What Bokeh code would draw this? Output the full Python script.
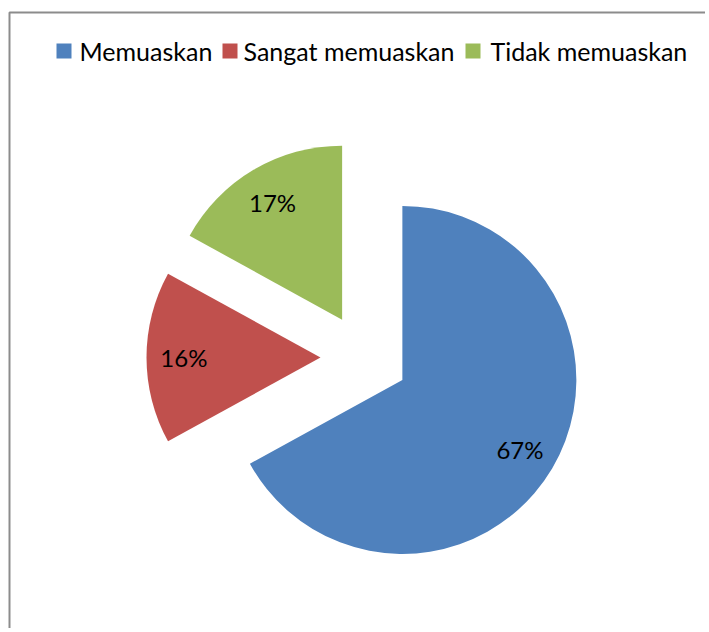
import math
from bokeh.plotting import figure
from bokeh.models import Range1d, ColumnDataSource
from bokeh.core.properties import value
from bokeh.embed import file_html
from bokeh.resources import INLINE

# ---- data ----
categories = ["Memuaskan", "Sangat memuaskan", "Tidak memuaskan"]
values = [67, 16, 17]
labels = ["67%", "16%", "17%"]
colors = ["#4F81BD", "#C0504D", "#9BBB59"]

# ---- layout (screen px -> data units 1:1, y up) ----
W, H = 705, 628
X0, Y_TOP = 0, 632
p = figure(width=W, height=H, output_backend="svg", toolbar_location=None,
           x_range=Range1d(X0, X0 + W), y_range=Range1d(Y_TOP - H, Y_TOP),
           min_border=0)
p.axis.visible = False
p.grid.visible = False
p.outline_line_color = None
p.background_fill_color = "white"

FONT = "Lato"
cx, cy = 364, 632 - 357
R = 174
explode = 44
label_frac = 0.785

total = float(sum(values))
starts, ends, xs, ys, lx, ly = [], [], [], [], [], []
cum = 0.0
for v in values:
    a0 = math.pi / 2 - 2 * math.pi * cum / total
    cum += v
    a1 = math.pi / 2 - 2 * math.pi * cum / total
    mid = (a0 + a1) / 2
    ox = cx + explode * math.cos(mid)
    oy = cy + explode * math.sin(mid)
    starts.append(a0)
    ends.append(a1)
    xs.append(ox)
    ys.append(oy)
    lx.append(ox + label_frac * R * math.cos(mid))
    ly.append(oy + label_frac * R * math.sin(mid))

src = ColumnDataSource(dict(x=xs, y=ys, start=starts, end=ends, color=colors,
                            lx=lx, ly=ly, label=labels, cat=categories))
p.wedge(x="x", y="y", radius=R, start_angle="start", end_angle="end",
        direction="clock", fill_color="color", line_color=None, source=src)
p.text(x="lx", y="ly", text="label", source=src, text_font=value(FONT),
       text_font_size="24px", text_align="center", text_baseline="middle",
       text_color="black")

# ---- legend (manual, horizontal) ----
sq_x = [56, 222, 465]
tx_x = [79, 243, 490]
leg = ColumnDataSource(dict(sx=[s + 7.5 for s in sq_x], sy=[632 - 50.5] * 3,
                            tx=tx_x, ty=[632 - 50.5] * 3, cat=categories, color=colors))
p.rect(x="sx", y="sy", width=15, height=15, fill_color="color", line_color=None, source=leg)
p.text(x="tx", y="ty", text="cat", source=leg, text_font=value(FONT),
       text_font_size="25px", text_align="left", text_baseline="middle",
       text_color="black")

# ---- chart area border (top and left visible) ----
p.line(x=[9, 9, X0 + W], y=[Y_TOP - H, 632 - 12, 632 - 12], line_color="#8c8c8c", line_width=2)

open("out.html", "w").write(file_html(p, INLINE))
